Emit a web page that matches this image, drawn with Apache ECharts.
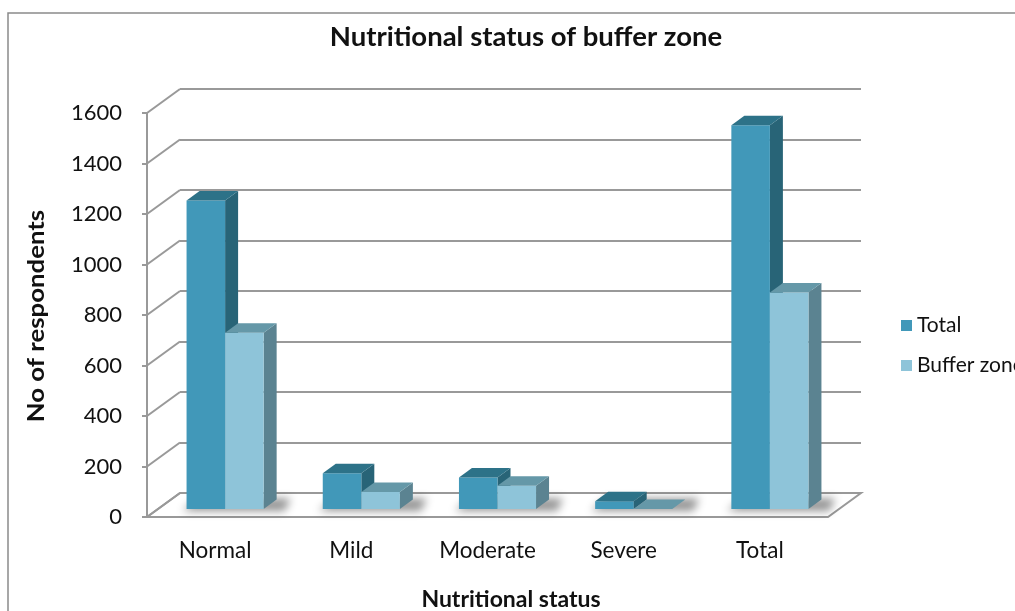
<!DOCTYPE html>
<html>
<head>
<meta charset="utf-8">
<script src="https://cdn.jsdelivr.net/npm/echarts@6/dist/echarts.min.js"></script>
<style>
  html, body { margin: 0; padding: 0; background: #fff; }
  #chart { width: 1015px; height: 611px; }
</style>
</head>
<body>
<div id="chart"></div>
<script>
// Nutritional status categories and respondent counts
const categories = ['Normal', 'Mild', 'Moderate', 'Severe', 'Total'];
const totalValues = [1222, 142, 125, 31, 1520];
const bufferValues = [698, 67, 92, 0, 857];
const yTicks = [0, 200, 400, 600, 800, 1000, 1200, 1400, 1600];

const FONT = 'Lato, "Open Sans", sans-serif';
const GRID_COLOR = '#999999';
const TEXT_COLOR = '#111111';

// oblique projection: wall depth and bar depth offsets
const WALL_DX = 33, WALL_DY = -24;
const BAR_DX = 13, BAR_DY = -9.5;
const BAR_FRACTION = 0.283;

const palettes = [
  { front: '#4198b9', top: '#2d7288', side: '#286477' },
  { front: '#8ec4d9', top: '#6598a8', side: '#5b8391' }
];

function barGeometry(api, cat, val, seriesIdx) {
  const base = api.coord([cat, 0]);
  const top = api.coord([cat, val]);
  const band = api.size([1, 0])[0];
  const w = band * BAR_FRACTION;
  const x0 = base[0] - w + seriesIdx * w - 1;
  return { x0: x0, x1: x0 + w, w: w, yb: base[1], yt: top[1] };
}

function barRenderer(seriesIdx) {
  const pal = palettes[seriesIdx];
  return function (params, api) {
    const g = barGeometry(api, api.value(0), api.value(1), seriesIdx);
    const { x0, x1, yb, yt } = g;
    return {
      type: 'group',
      children: [
        {
          type: 'polygon', z2: 2,
          shape: { points: [[x1, yt], [x1 + BAR_DX, yt + BAR_DY], [x1 + BAR_DX, yb + BAR_DY], [x1, yb]] },
          style: { fill: pal.side }
        },
        {
          type: 'rect', z2: 3,
          shape: { x: x0, y: yt, width: x1 - x0, height: yb - yt },
          style: { fill: pal.front }
        },
        {
          type: 'polygon', z2: 4,
          shape: { points: [[x0, yt], [x1, yt], [x1 + BAR_DX, yt + BAR_DY], [x0 + BAR_DX, yt + BAR_DY]] },
          style: { fill: pal.top }
        }
      ]
    };
  };
}

// blurred floor shadow under each pair of bars (shape drawn off-canvas, only its shadow lands)
const SHIFT = 3000;
function shadowRenderer(params, api) {
  const a = barGeometry(api, api.value(0), 0, 0);
  const b = barGeometry(api, api.value(0), 0, 1);
  const pts = [
    [a.x0 - 4, a.yb + 2],
    [b.x1 + BAR_DX + 8, a.yb + 2],
    [b.x1 + BAR_DX + 14, a.yb + BAR_DY - 1],
    [a.x0 + BAR_DX - 2, a.yb + BAR_DY - 1]
  ].map(p => [p[0] - SHIFT, p[1]]);
  return {
    type: 'polygon',
    shape: { points: pts },
    style: { fill: '#000', shadowBlur: 9, shadowColor: 'rgba(0,0,0,0.42)', shadowOffsetX: SHIFT, shadowOffsetY: 0 }
  };
}

const chart = echarts.init(document.getElementById('chart'), null, { renderer: 'canvas' });

const option = {
  animation: false,
  backgroundColor: '#fff',
  textStyle: { fontFamily: FONT },
  legend: {
    orient: 'vertical',
    left: 896,
    top: 310,
    itemWidth: 11,
    itemHeight: 11,
    itemGap: 19,
    icon: 'rect',
    textStyle: { fontSize: 21, color: TEXT_COLOR, fontFamily: FONT },
    data: ['Total', 'Buffer zone']
  },
  grid: [
    // front plane: axis labels
    { left: 147, top: 113, width: 681, height: 404 },
    // back wall: gridlines
    { left: 147 + WALL_DX, top: 113 + WALL_DY, width: 681, height: 404 },
    // bar plane (between front and back)
    { left: 158, top: 105, width: 681, height: 404 }
  ],
  xAxis: [
    {
      gridIndex: 0, type: 'category', data: categories,
      axisLine: { show: false }, axisTick: { show: false },
      axisLabel: { fontSize: 22.5, color: TEXT_COLOR, margin: 22, fontFamily: FONT }
    },
    { gridIndex: 1, type: 'category', data: categories, show: false },
    { gridIndex: 2, type: 'category', data: categories, show: false }
  ],
  yAxis: [
    {
      gridIndex: 0, type: 'value', min: 0, max: 1600, interval: 200,
      axisLine: { show: true, lineStyle: { color: GRID_COLOR, width: 2 } },
      axisTick: { show: true, length: 5, lineStyle: { color: GRID_COLOR, width: 2 } },
      axisLabel: { fontSize: 22, color: TEXT_COLOR, margin: 25, fontFamily: FONT, formatter: v => String(v) },
      splitLine: { show: false }
    },
    {
      gridIndex: 1, type: 'value', min: 0, max: 1600, interval: 200,
      axisLine: { show: false }, axisTick: { show: false }, axisLabel: { show: false },
      splitLine: { show: true, lineStyle: { color: GRID_COLOR, width: 2 } }
    },
    { gridIndex: 2, type: 'value', min: 0, max: 1600, interval: 200, show: false }
  ],
  graphic: [
    {
      type: 'rect', z: 0, silent: true,
      shape: { x: 8, y: 13, width: 1100, height: 700 },
      style: { fill: 'none', stroke: '#8a8a8a', lineWidth: 1.5 }
    },
    {
      type: 'text', x: 526, y: 37,
      style: { text: 'Nutritional status of buffer zone', font: 'bold 27.5px ' + FONT, fill: TEXT_COLOR, textAlign: 'center', textVerticalAlign: 'middle' }
    },
    {
      type: 'text', x: 511, y: 600,
      style: { text: 'Nutritional status', font: 'bold 23px ' + FONT, fill: TEXT_COLOR, textAlign: 'center', textVerticalAlign: 'middle' }
    },
    {
      type: 'text', x: 37, y: 316, rotation: Math.PI / 2, scaleX: 1.12,
      style: { text: 'No of respondents', font: 'bold 23px ' + FONT, fill: TEXT_COLOR, textAlign: 'center', textVerticalAlign: 'middle' }
    }
  ],
  series: [
    {
      // floor of the plot
      type: 'custom', name: 'floor', xAxisIndex: 0, yAxisIndex: 0, z: 1, silent: true,
      data: [[0, 0]],
      renderItem: function (params, api) {
        const cs = params.coordSys;
        const y0 = api.coord([0, 0])[1];
        return {
          type: 'polygon',
          shape: { points: [[cs.x, y0], [cs.x + cs.width, y0], [cs.x + cs.width + WALL_DX, y0 + WALL_DY], [cs.x + WALL_DX, y0 + WALL_DY]] },
          style: { fill: '#fff', stroke: GRID_COLOR, lineWidth: 2 }
        };
      }
    },
    {
      // side wall lines joining front ticks to back gridlines
      type: 'custom', name: 'wall', xAxisIndex: 0, yAxisIndex: 0, z: 1, silent: true,
      data: yTicks.map(v => [0, v]),
      renderItem: function (params, api) {
        const cs = params.coordSys;
        const y = api.coord([0, api.value(1)])[1];
        return {
          type: 'line',
          shape: { x1: cs.x, y1: y, x2: cs.x + WALL_DX, y2: y + WALL_DY },
          style: { stroke: GRID_COLOR, lineWidth: 2 }
        };
      }
    },
    {
      type: 'custom', name: 'shadow', xAxisIndex: 2, yAxisIndex: 2, z: 2, silent: true,
      data: categories.map((c, i) => [i]),
      renderItem: shadowRenderer
    },
    {
      type: 'custom', name: 'Total', xAxisIndex: 2, yAxisIndex: 2, z: 3,
      itemStyle: { color: palettes[0].front },
      data: totalValues.map((v, i) => [i, v]),
      renderItem: barRenderer(0)
    },
    {
      type: 'custom', name: 'Buffer zone', xAxisIndex: 2, yAxisIndex: 2, z: 4,
      itemStyle: { color: palettes[1].front },
      data: bufferValues.map((v, i) => [i, v]),
      renderItem: barRenderer(1)
    }
  ]
};

chart.setOption(option);
</script>
</body>
</html>
